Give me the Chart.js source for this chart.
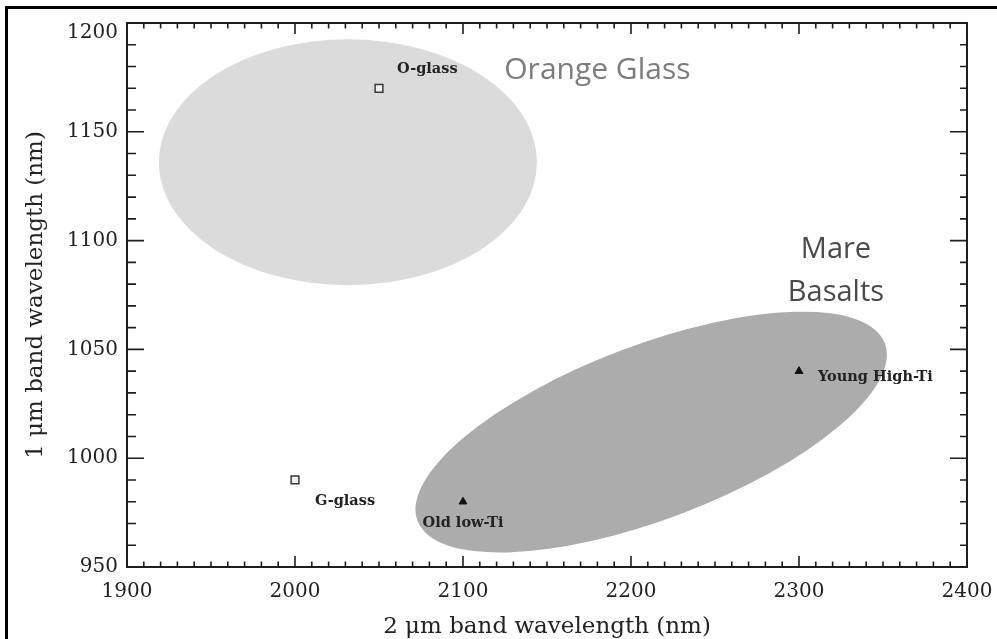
<!DOCTYPE html>
<html>
<head>
<meta charset="utf-8">
<script src="https://cdn.jsdelivr.net/npm/chart.js@4.4.1/dist/chart.umd.min.js"></script>
<style>
  html, body { margin: 0; padding: 0; background: #fff; overflow: hidden; width: 997px; height: 639px; }
  #c { position: absolute; left: 0; top: 0; }
  #frame { position: absolute; left: 5px; top: 6px; width: 1200px; height: 900px;
           border-left: 3px solid #000; border-top: 3px solid #000; pointer-events: none; }
</style>
</head>
<body>
<canvas id="c" width="997" height="639"></canvas>
<div id="frame"></div>
<script>
// Axis tick values (nm)
const xTickValues = [1900, 2000, 2100, 2200, 2300, 2400];
const yTickValues = [950, 1000, 1050, 1100, 1150, 1200];

// Pyroclastic glass beads: 2 um and 1 um band centres (nm)
const glassNames = ['O-glass', 'G-glass'];
const glassBand2 = [2050, 2000];
const glassBand1 = [1170, 990];

// Mare basalt samples
const basaltNames = ['Old low-Ti', 'Young High-Ti'];
const basaltBand2 = [2100, 2300];
const basaltBand1 = [980, 1040];

// Compositional fields: centre and two semi-axis vectors, all in nm
const orangeGlassCentre = [2031.5, 1136];
const orangeGlassAxes = [[112.5, 0], [0, 56.5]];
const mareBasaltCentre = [2212, 1012];
const mareBasaltAxes = [[139.1, 40.8], [18.4, -37.4]];

const SERIF = '"DejaVu Serif", "Liberation Serif", serif';
const SANS = '"Open Sans", "Noto Sans", sans-serif';

// Shaded fields and their captions, drawn underneath the sample markers
const fieldPlugin = {
  id: 'fields',
  beforeDatasetsDraw(chart) {
    const { ctx, chartArea, scales: { x, y } } = chart;
    const fields = [
      { c: orangeGlassCentre, a: orangeGlassAxes, color: '#dbdbdb' },
      { c: mareBasaltCentre, a: mareBasaltAxes, color: '#acacac' }
    ];
    ctx.save();
    ctx.beginPath();
    ctx.rect(chartArea.left, chartArea.top, chartArea.width, chartArea.height);
    ctx.clip();
    fields.forEach(f => {
      const cx = x.getPixelForValue(f.c[0]);
      const cy = y.getPixelForValue(f.c[1]);
      const ux = x.getPixelForValue(f.c[0] + f.a[0][0]) - cx;
      const uy = y.getPixelForValue(f.c[1] + f.a[0][1]) - cy;
      const vx = x.getPixelForValue(f.c[0] + f.a[1][0]) - cx;
      const vy = y.getPixelForValue(f.c[1] + f.a[1][1]) - cy;
      ctx.beginPath();
      ctx.ellipse(cx, cy, Math.hypot(ux, uy), Math.hypot(vx, vy), Math.atan2(uy, ux), 0, Math.PI * 2);
      ctx.fillStyle = f.color;
      ctx.fill();
    });

    ctx.textAlign = 'center';
    ctx.textBaseline = 'middle';
    ctx.font = '30px ' + SANS;
    ctx.fillStyle = '#7c7c7c';
    ctx.fillText('Orange Glass', x.getPixelForValue(2180), y.getPixelForValue(1178));
    ctx.font = '29px ' + SANS;
    ctx.fillStyle = '#4a4a4a';
    ctx.fillText('Mare', x.getPixelForValue(2322), y.getPixelForValue(1096));
    ctx.fillText('Basalts', x.getPixelForValue(2322), y.getPixelForValue(1076));
    ctx.restore();
  }
};

// Plot box with inward major/minor ticks on all four sides
const boxPlugin = {
  id: 'boxTicks',
  afterDraw(chart) {
    const { ctx, chartArea: { left, right, top, bottom }, scales: { x, y } } = chart;
    ctx.save();
    ctx.strokeStyle = '#1e1e1e';
    ctx.lineWidth = 2;
    ctx.strokeRect(left, top, right - left, bottom - top);
    ctx.lineWidth = 1.6;
    ctx.beginPath();
    for (let v = x.min; v <= x.max + 1e-6; v += 10) {
      const px = x.getPixelForValue(v);
      const len = xTickValues.includes(v) ? 11 : 5.5;
      ctx.moveTo(px, bottom); ctx.lineTo(px, bottom - len);
      ctx.moveTo(px, top); ctx.lineTo(px, top + len);
    }
    for (let v = y.min; v <= y.max + 1e-6; v += 10) {
      const py = y.getPixelForValue(v);
      const lenL = yTickValues.includes(v) ? 17 : 9;
      const lenR = yTickValues.includes(v) ? 17 : 7;
      ctx.moveTo(left, py); ctx.lineTo(left + lenL, py);
      ctx.moveTo(right, py); ctx.lineTo(right - lenR, py);
    }
    ctx.stroke();
    ctx.restore();
  }
};

// Sample name next to each marker
const nameOffsets = [[[18, -19, 'left'], [20, 21, 'left']], [[0, 22, 'center'], [19, 6, 'left']]];
const namePlugin = {
  id: 'sampleNames',
  afterDatasetsDraw(chart) {
    const { ctx } = chart;
    ctx.save();
    ctx.font = 'bold 14.5px ' + SERIF;
    ctx.fillStyle = '#222';
    ctx.textBaseline = 'middle';
    chart.data.datasets.forEach((ds, di) => {
      chart.getDatasetMeta(di).data.forEach((pt, i) => {
        const [dx, dy, align] = nameOffsets[di][i];
        ctx.textAlign = align;
        ctx.fillText(ds.names[i], pt.x + dx, pt.y + dy);
      });
    });
    ctx.restore();
  }
};

new Chart(document.getElementById('c'), {
  type: 'scatter',
  data: {
    datasets: [
      {
        label: 'Glass beads',
        names: glassNames,
        data: glassBand2.map((v, i) => ({ x: v, y: glassBand1[i] })),
        pointStyle: 'rect',
        pointRadius: 5.5,
        borderWidth: 1.5,
        borderColor: '#3a3a3a',
        backgroundColor: '#f0f0f0'
      },
      {
        label: 'Mare basalts',
        names: basaltNames,
        data: basaltBand2.map((v, i) => ({ x: v, y: basaltBand1[i] })),
        pointStyle: 'triangle',
        pointRadius: 4.5,
        borderWidth: 1,
        borderColor: '#111',
        backgroundColor: '#111'
      }
    ]
  },
  options: {
    responsive: false,
    animation: false,
    devicePixelRatio: 1,
    layout: { padding: { left: 0, top: 23, right: 30, bottom: 0 } },
    plugins: { legend: { display: false }, tooltip: { enabled: false } },
    scales: {
      x: {
        type: 'linear',
        min: 1900, max: 2400,
        afterBuildTicks: s => { s.ticks = xTickValues.map(v => ({ value: v })); },
        afterFit: s => { s.height = 72; s.paddingLeft = 0; s.paddingRight = 0; },
        grid: { display: false, drawTicks: false },
        border: { display: false },
        ticks: {
          callback: v => String(v),
          font: { family: SERIF, size: 20 },
          color: '#222',
          padding: 13,
          maxRotation: 0,
          autoSkip: false
        },
        title: {
          display: true,
          text: '2 μm band wavelength (nm)',
          font: { family: SERIF, size: 23, lineHeight: 1 },
          color: '#222',
          padding: { top: 0, bottom: 0 }
        }
      },
      y: {
        type: 'linear',
        min: 950, max: 1200,
        afterBuildTicks: s => { s.ticks = yTickValues.map(v => ({ value: v })); },
        afterFit: s => { s.width = 127; s.paddingTop = 0; s.paddingBottom = 0; },
        grid: { display: false, drawTicks: false },
        border: { display: false },
        ticks: {
          // the top label sits just inside the frame, below its tick
          callback: v => (v === 1200 ? ['', String(v)] : String(v)),
          font: { family: SERIF, size: 20, lineHeight: 1 },
          color: '#222',
          padding: 9,
          autoSkip: false
        },
        title: {
          display: true,
          text: '1 μm band wavelength (nm)',
          font: { family: SERIF, size: 23, lineHeight: 1 },
          color: '#222',
          padding: { top: 25, bottom: 0 }
        }
      }
    }
  },
  plugins: [fieldPlugin, boxPlugin, namePlugin]
});
</script>
</body>
</html>
